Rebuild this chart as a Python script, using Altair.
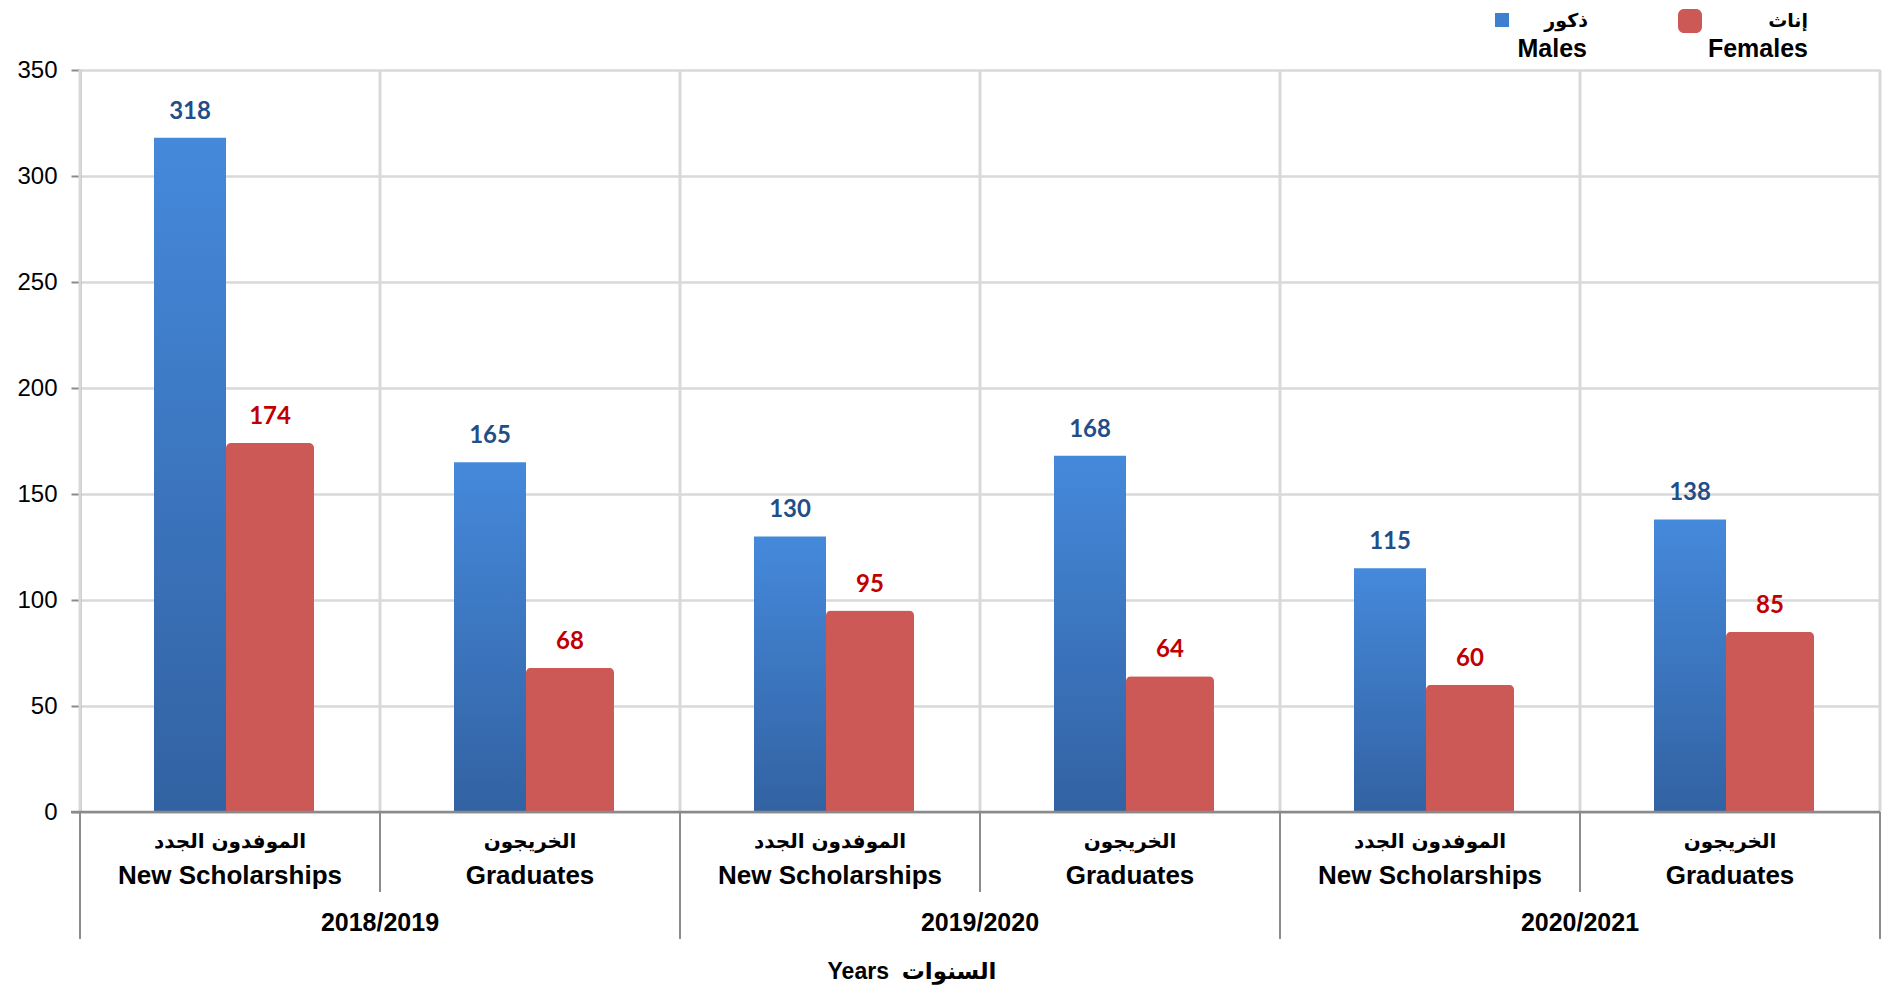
import altair as alt
import pandas as pd

# ---- data ----
years = ["2018/2019", "2019/2020", "2020/2021"]
types_en = ["New Scholarships", "Graduates"]
types_ar = ["الموفدون الجدد", "الخريجون"]
males = [318, 165, 130, 168, 115, 138]
females = [174, 68, 95, 64, 60, 85]
series_names = ["Males", "Females"]
legend_ar = ["ذكور", "إناث"]
y_ticks = [0, 50, 100, 150, 200, 250, 300, 350]
axis_title = "Years\u00a0\u00a0السنوات"

W, H = 1800, 742

rows, cats = [], []
i = 0
for y in years:
    for t_en, t_ar in zip(types_en, types_ar):
        key = f"{y} | {t_en}"
        cats.append({"key": key, "year": y, "en": t_en, "ar": t_ar,
                     "first": t_en == types_en[0], "last": i == len(males) - 1})
        rows.append({"key": key, "series": "Males", "value": males[i]})
        rows.append({"key": key, "series": "Females", "value": females[i]})
        i += 1
df = pd.DataFrame(rows)
cdf = pd.DataFrame(cats)
keys = list(cdf["key"])

xscale = alt.Scale(type="band", domain=keys, paddingInner=0, paddingOuter=0)
X = alt.X("key:N", scale=xscale, axis=None)
XO = alt.XOffset("series:N", scale=alt.Scale(domain=series_names, paddingInner=0, paddingOuter=0.875))
yscale = alt.Scale(domain=[0, 350])
yaxis = alt.Axis(values=y_ticks, grid=True, gridColor="#d9d9d9", gridWidth=2.5,
                 domainColor="#8a8a8a", domainWidth=2, tickColor="#8a8a8a",
                 tickSize=9, tickWidth=2, labelFont="Liberation Sans",
                 labelFontSize=24, labelColor="#000000", labelPadding=14,
                 title=None)
Y = alt.Y("value:Q", scale=yscale, axis=yaxis)

base = alt.Chart(df)
cbase = alt.Chart(cdf)

# vertical gridlines inside plot
vgrid = cbase.mark_rule(color="#d9d9d9", strokeWidth=3).encode(
    x=alt.X("key:N", scale=xscale, axis=None, bandPosition=0),
    y=alt.value(0), y2=alt.value(H))
vgrid_r = cbase.transform_filter("datum.last").mark_rule(color="#d9d9d9", strokeWidth=3).encode(
    x=alt.X("key:N", scale=xscale, axis=None, bandPosition=1),
    y=alt.value(0), y2=alt.value(H))

male_grad = alt.Gradient(gradient="linear",
                         stops=[alt.GradientStop(color="#4589db", offset=0),
                                alt.GradientStop(color="#3262a2", offset=1)],
                         x1=0, x2=0, y1=0, y2=1)
bars_m = base.transform_filter("datum.series == 'Males'").mark_bar(
    width=72, color=male_grad).encode(x=X, xOffset=XO, y=Y)
bars_f = base.transform_filter("datum.series == 'Females'").mark_bar(
    width=88, color="#cd5957", cornerRadiusTopLeft=5, cornerRadiusTopRight=5).encode(
    x=X, xOffset=XO, y=Y)

zero_line = alt.Chart(pd.DataFrame({"value": [0]})).mark_rule(color="#8a8a8a", strokeWidth=2.5).encode(
    y=Y, x=alt.value(-9), x2=alt.value(W))

sep_short = cbase.transform_filter("!datum.first").mark_rule(color="#8c8c8c", strokeWidth=2).encode(
    x=alt.X("key:N", scale=xscale, axis=None, bandPosition=0),
    y=alt.value(H), y2=alt.value(H + 80))
sep_long = cbase.transform_filter("datum.first").mark_rule(color="#8c8c8c", strokeWidth=2).encode(
    x=alt.X("key:N", scale=xscale, axis=None, bandPosition=0),
    y=alt.value(H), y2=alt.value(H + 127))
sep_right = cbase.transform_filter("datum.last").mark_rule(color="#8c8c8c", strokeWidth=2).encode(
    x=alt.X("key:N", scale=xscale, axis=None, bandPosition=1),
    y=alt.value(H), y2=alt.value(H + 127))

lbl_m = base.transform_filter("datum.series == 'Males'").mark_text(
    font="Lato", fontWeight="bold", fontSize=24, color="#1f4e89", dy=-19,
    baseline="alphabetic").encode(x=X, xOffset=XO, y=Y, text="value:Q")
lbl_f = base.transform_filter("datum.series == 'Females'").mark_text(
    font="Lato", fontWeight="bold", fontSize=24, color="#c00000", dy=-19,
    baseline="alphabetic").encode(x=X, xOffset=XO, y=Y, text="value:Q")

cat_ar = cbase.mark_text(font="DejaVu Sans", fontWeight="bold", fontSize=20, color="#000000",
                         baseline="middle").encode(x=X, y=alt.value(H + 30), text="ar:N")
cat_en = cbase.mark_text(font="Liberation Sans", fontWeight="bold", fontSize=26, color="#000000",
                         baseline="middle").encode(x=X, y=alt.value(H + 64), text="en:N")
yr = cbase.transform_filter("datum.first").mark_text(
    font="Liberation Sans", fontWeight="bold", fontSize=25, color="#000000",
    baseline="middle").encode(x=alt.X("key:N", scale=xscale, axis=None, bandPosition=1),
                              y=alt.value(H + 111), text="year:N")

title = alt.Chart(pd.DataFrame({"t": [axis_title]})).mark_text(
    font="Liberation Sans, DejaVu Sans", fontWeight="bold", fontSize=23, color="#000000",
    baseline="middle").encode(x=alt.value(832), y=alt.value(H + 160), text="t:N")

# legend
leg = alt.Chart(pd.DataFrame({"ar": legend_ar, "en": series_names}))
sq_m = leg.transform_filter("datum.en == 'Males'").mark_rect(color="#3f7fcf").encode(
    x=alt.value(1415), x2=alt.value(1429), y=alt.value(-57), y2=alt.value(-43))
sq_f = leg.transform_filter("datum.en == 'Females'").mark_rect(color="#cd5957", cornerRadius=6).encode(
    x=alt.value(1598), x2=alt.value(1622), y=alt.value(-61), y2=alt.value(-37))
leg_ar_m = leg.transform_filter("datum.en == 'Males'").mark_text(
    font="DejaVu Sans", fontWeight="bold", fontSize=19, align="right", baseline="middle").encode(
    x=alt.value(1508), y=alt.value(-49), text="ar:N")
leg_ar_f = leg.transform_filter("datum.en == 'Females'").mark_text(
    font="DejaVu Sans", fontWeight="bold", fontSize=19, align="right", baseline="middle").encode(
    x=alt.value(1728), y=alt.value(-49), text="ar:N")
leg_en_m = leg.transform_filter("datum.en == 'Males'").mark_text(
    font="Liberation Sans", fontWeight="bold", fontSize=25, align="right", baseline="middle").encode(
    x=alt.value(1507), y=alt.value(-21), text="en:N")
leg_en_f = leg.transform_filter("datum.en == 'Females'").mark_text(
    font="Liberation Sans", fontWeight="bold", fontSize=25, align="right", baseline="middle").encode(
    x=alt.value(1728), y=alt.value(-21), text="en:N")

chart = alt.layer(
    vgrid, vgrid_r, bars_m, bars_f, zero_line, sep_short, sep_long, sep_right,
    lbl_m, lbl_f, cat_ar, cat_en, yr, title,
    sq_m, sq_f, leg_ar_m, leg_ar_f, leg_en_m, leg_en_f
).properties(
    width=W, height=H,
    padding={"left": 72, "top": 62, "right": 2, "bottom": 174},
    autosize=alt.AutoSizeParams(type="none"),
).configure_view(stroke=None).configure(background="white")

chart.save("out.html", embed_options={"renderer": "svg", "actions": False})
